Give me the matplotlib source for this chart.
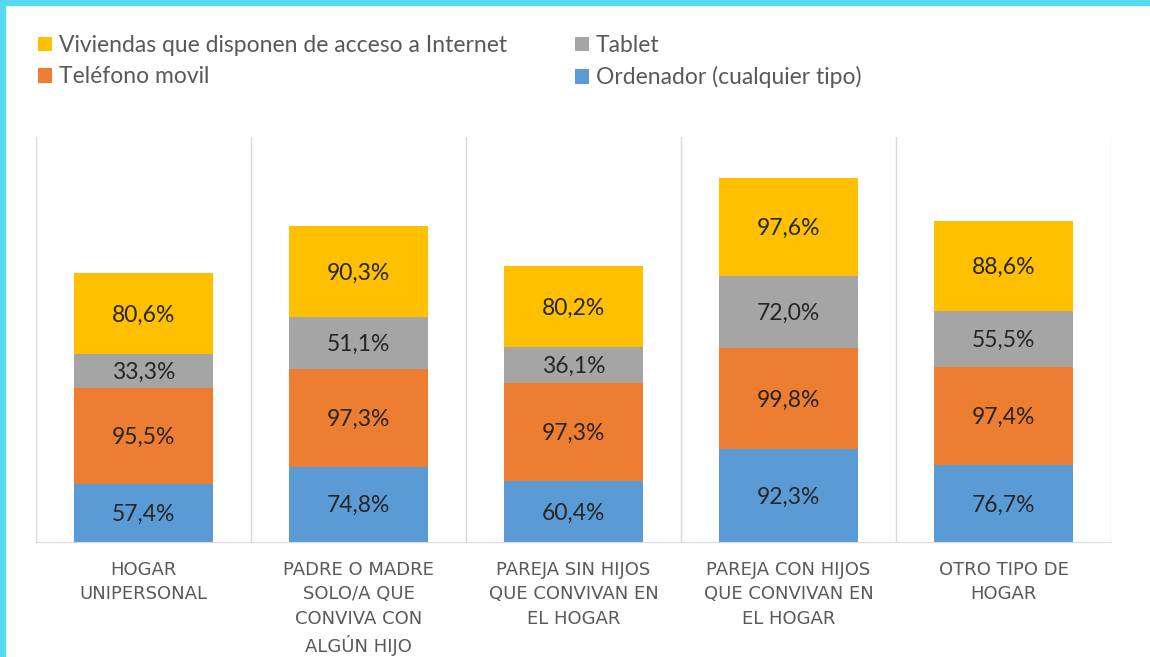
import matplotlib
matplotlib.use("Agg")
import matplotlib.pyplot as plt
from matplotlib.patches import Rectangle, Patch
import numpy as np

categories = [
    "HOGAR\nUNIPERSONAL",
    "PADRE O MADRE\nSOLO/A QUE\nCONVIVA CON\nALGÚN HIJO",
    "PAREJA SIN HIJOS\nQUE CONVIVAN EN\nEL HOGAR",
    "PAREJA CON HIJOS\nQUE CONVIVAN EN\nEL HOGAR",
    "OTRO TIPO DE\nHOGAR",
]
ordenador = [57.4, 74.8, 60.4, 92.3, 76.7]
telefono = [95.5, 97.3, 97.3, 99.8, 97.4]
tablet = [33.3, 51.1, 36.1, 72.0, 55.5]
viviendas = [80.6, 90.3, 80.2, 97.6, 88.6]

series_names = ["Ordenador (cualquier tipo)", "Teléfono movil", "Tablet",
                "Viviendas que disponen de acceso a Internet"]
series_values = [ordenador, telefono, tablet, viviendas]
colors = ["#5B9BD5", "#ED7D31", "#A5A5A5", "#FFC000"]

plt.rcParams['font.family'] = ['Lato', 'DejaVu Sans']

fig = plt.figure(figsize=(11.5, 6.57), dpi=100)
ax = fig.add_axes([36/1150, 1-542/657, 1075/1150, 405/657])

x = np.arange(len(categories))
bottom = np.zeros(len(categories))
for name, vals, c in zip(series_names, series_values, colors):
    vals = np.array(vals)
    ax.bar(x, vals, bottom=bottom, width=0.65, color=c, zorder=2)
    for xi, b, v in zip(x, bottom, vals):
        ax.text(xi, b + v/2 - 1.5, f"{v:.1f}%".replace(".", ","), ha="center", va="center",
                fontsize=16.5, color="#262626", zorder=3)
    bottom += vals

ax.set_xlim(-0.5, len(categories)-0.5)
ax.set_ylim(0, 402)
for s in ["top", "right", "left"]:
    ax.spines[s].set_visible(False)
ax.spines["bottom"].set_color("#D9D9D9")
ax.set_yticks([])
ax.set_xticks(np.arange(-0.5, len(categories)))
ax.set_xticklabels([])
ax.tick_params(axis="x", length=0)
ax.grid(axis="x", color="#D9D9D9", linewidth=1.0, zorder=0)

for xi, lab in zip(x, categories):
    ax.text(xi, -19, lab, ha="center", va="top", fontsize=13, color="#595959",
            family=["DejaVu Sans"], linespacing=1.45, clip_on=False)

col1 = ["Viviendas que disponen de acceso a Internet", "Teléfono movil"]
col2 = ["Tablet", "Ordenador (cualquier tipo)"]
for names, xpos in [(col1, 38), (col2, 575)]:
    hs = [Patch(facecolor=colors[series_names.index(n)]) for n in names]
    fig.legend(hs, names, loc="upper left", bbox_to_anchor=(xpos/1150, 1-35/657),
               frameon=False, fontsize=16.5, labelcolor="#595959", handlelength=0.6,
               handleheight=0.6, handletextpad=0.3, labelspacing=0.45,
               borderpad=0, borderaxespad=0)

# cyan frame
fig.patches.append(Rectangle((0, 1-5/657), 1, 5/657, transform=fig.transFigure,
                             color="#58D9F2", zorder=10))
fig.patches.append(Rectangle((0, 0), 5/1150, 1, transform=fig.transFigure,
                             color="#58D9F2", zorder=10))

fig.savefig("out.png", dpi=100)
